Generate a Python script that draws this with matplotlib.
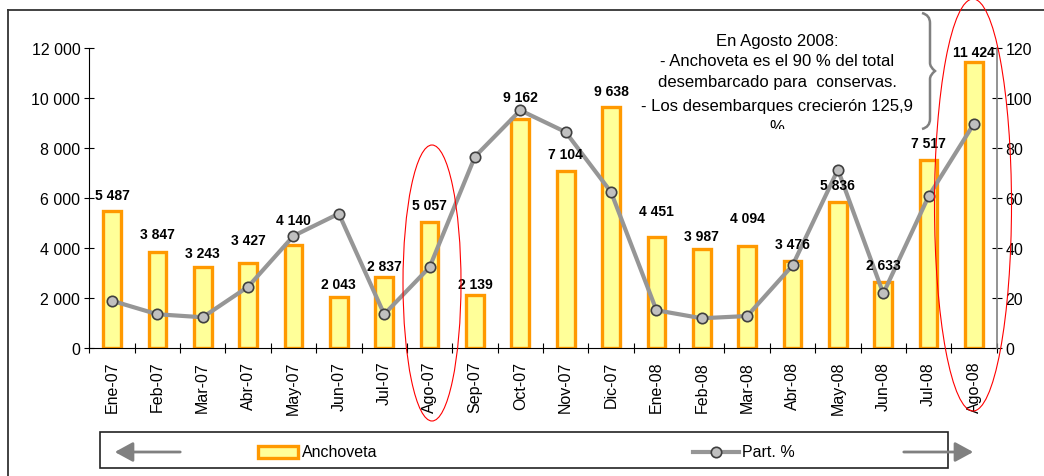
import numpy as np
import matplotlib
matplotlib.use("Agg")
import matplotlib.pyplot as plt
from matplotlib.patches import Ellipse, Rectangle, FancyArrowPatch, PathPatch
from matplotlib.path import Path
from matplotlib.lines import Line2D
from matplotlib.transforms import Bbox, TransformedBbox
from matplotlib.ticker import FuncFormatter, FixedLocator

plt.rcParams['font.family'] = ['Liberation Sans', 'DejaVu Sans']

# Data
months = ["Ene-07", "Feb-07", "Mar-07", "Abr-07", "May-07", "Jun-07", "Jul-07", "Ago-07",
          "Sep-07", "Oct-07", "Nov-07", "Dic-07", "Ene-08", "Feb-08", "Mar-08", "Abr-08",
          "May-08", "Jun-08", "Jul-08", "Ago-08"]
anchoveta = [5487, 3847, 3243, 3427, 4140, 2043, 2837, 5057, 2139, 9162,
             7104, 9638, 4451, 3987, 4094, 3476, 5836, 2633, 7517, 11424]
part_pct = [19.0, 13.6, 12.4, 24.6, 44.9, 53.8, 13.6, 32.4, 76.6, 95.1,
            86.4, 62.4, 15.2, 12.0, 12.9, 33.1, 71.4, 21.9, 60.8, 89.8]
note_lines = ["En Agosto 2008:", "- Anchoveta es el 90 % del total",
              "desembarcado para  conservas.", "- Los desembarques crecierón 125,9", "%"]

# label lift above bar top (pixels), hand placed like the original
label_dy = [16, 18, 14, 23, 25, 13, 11, 17, 11, 22, 17, 16, 26, 13, 28, 17, 17, 17, 17, 10]

W, H = 1044, 477
fig = plt.figure(figsize=(W / 100, H / 100), dpi=100)


def fx(x):
    return x / W


def fy(y):
    return 1 - y / H


ax = fig.add_axes([fx(89.3), fy(349.3), fx(996.7) - fx(89.3), fy(49) - fy(349.3)])
x = np.arange(len(months))

ax.bar(x, anchoveta, width=0.39, color="#FFFF99", edgecolor="#FF9900", linewidth=2.4, zorder=2)
ax.set_xlim(-0.5, len(months) - 0.5)
ax.set_ylim(0, 12000)
ax.set_yticks(np.arange(0, 12001, 2000))
ax.yaxis.set_major_formatter(FuncFormatter(lambda v, p: f"{int(v):,}".replace(",", " ")))
ax.tick_params(axis='y', direction='inout', length=7, width=0.8, labelsize=11.5, pad=3)

ax.set_xticks(x)
ax.set_xticklabels(months, rotation=90, fontsize=11.5)
ax.xaxis.set_minor_locator(FixedLocator(np.arange(-0.5, len(months), 1)))
ax.tick_params(axis='x', which='major', length=0, pad=9)
ax.tick_params(axis='x', which='minor', direction='inout', length=7, width=0.8)
ax.spines['top'].set_visible(False)
ax.spines['right'].set_visible(False)

ax2 = ax.twinx()
ax2.plot(x, part_pct, color="#969696", linewidth=3, marker='o', markersize=7.5,
         markerfacecolor="#C0C0C0", markeredgecolor="#404040", markeredgewidth=1.2, zorder=3)
ax2.set_ylim(0, 120)
ax2.set_yticks(np.arange(0, 121, 20))
ax2.tick_params(axis='y', direction='inout', length=7, width=0.8, labelsize=11.5, pad=3)
for s in ['top', 'left', 'bottom']:
    ax2.spines[s].set_visible(False)
ax2.spines['right'].set_color("#808080")
ax2.spines['right'].set_linewidth(1.2)

# bar value labels on top of the line
for i, v in enumerate(anchoveta):
    ax2.annotate(f"{v:,}".replace(",", " "), (x[i], v), xycoords=ax.transData,
                 xytext=(0, label_dy[i] * 0.72), textcoords='offset points',
                 ha='center', va='center', fontsize=10, fontweight='bold', zorder=5)

# outer frame (top and left edges visible)
fig.add_artist(Line2D([fx(7.5), fx(1044)], [fy(10.5), fy(10.5)], color="#333333", lw=1.3))
fig.add_artist(Line2D([fx(7.5), fx(7.5)], [fy(10.5), fy(477)], color="#333333", lw=1.3))

# annotation text, last line clipped by its box
note_y = [41.7, 62, 83, 106, 128]
clip = TransformedBbox(Bbox.from_extents(0, fy(130), 1, 1), fig.transFigure)
for line, yy in zip(note_lines, note_y):
    t = fig.text(fx(777), fy(yy), line, ha='center', va='center', fontsize=12)
    t.set_clip_on(True)
    t.set_clip_box(clip)

# brace
bx = [922, 930, 930, 930, 930, 935, 930, 930, 930, 930, 922]
by = [14, 16, 24, 64, 68, 72, 76, 80, 120, 128, 130]
pts = [(fx(a), fy(b)) for a, b in zip(bx, by)]
codes = [Path.MOVETO, Path.CURVE3, Path.CURVE3, Path.LINETO, Path.CURVE3, Path.CURVE3,
         Path.CURVE3, Path.CURVE3, Path.LINETO, Path.CURVE3, Path.CURVE3]
fig.add_artist(PathPatch(Path(pts, codes), facecolor='none', edgecolor="#808080", lw=1.8,
                         transform=fig.transFigure))

# red highlight ellipses
for cx, cy, ew, eh in [(432, 284, 58, 276), (973, 206, 77, 412)]:
    fig.add_artist(Ellipse((fx(cx), fy(cy)), ew / W, eh / H, transform=fig.transFigure,
                           facecolor='none', edgecolor='red', lw=0.8, zorder=10))

# legend box
fig.add_artist(Rectangle((fx(100), fy(469)), (948 - 100) / W, (469 - 433) / H,
                         transform=fig.transFigure, facecolor='white', edgecolor='#222222', lw=1.2))
for a, b in [(183, 112), (901, 976)]:
    fig.add_artist(FancyArrowPatch((fx(a), fy(453)), (fx(b), fy(453)), transform=fig.transFigure,
                                   arrowstyle='-|>,head_length=1.1,head_width=0.6', mutation_scale=10,
                                   color="#808080", lw=2, zorder=11))
fig.add_artist(Rectangle((fx(258), fy(459)), 40 / W, 12 / H, transform=fig.transFigure,
                         facecolor="#FFFF99", edgecolor="#FF9900", lw=2.4, zorder=11))
fig.text(fx(302), fy(453), "Anchoveta", ha='left', va='center', fontsize=11.5)
fig.add_artist(Line2D([fx(693), fx(739)], [fy(453), fy(453)], color="#969696", lw=3, zorder=11))
fig.add_artist(Line2D([fx(716)], [fy(453)], marker='o', markersize=7.5, markerfacecolor="#C0C0C0",
                      markeredgecolor="#404040", markeredgewidth=1.2, zorder=12))
fig.text(fx(742), fy(453), "Part. %", ha='left', va='center', fontsize=11.5)

fig.savefig("out.png", dpi=100)
